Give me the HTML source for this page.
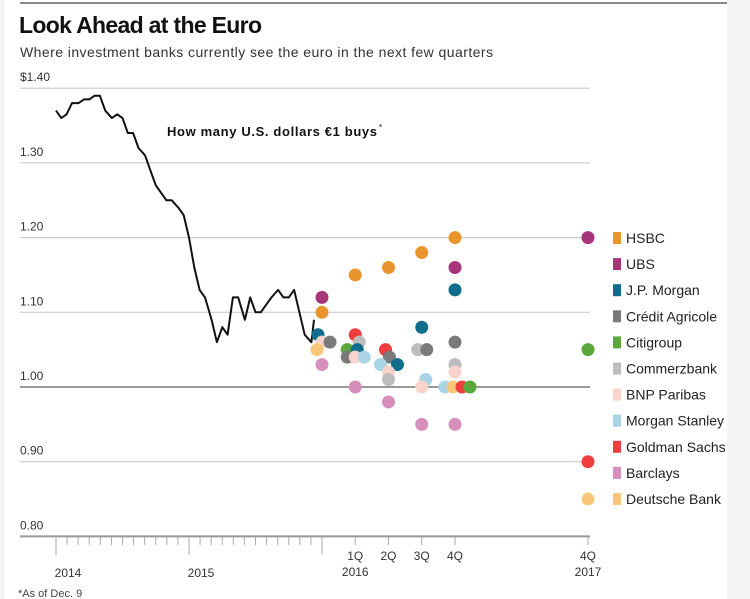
<!DOCTYPE html>
<html><head><meta charset="utf-8">
<style>
body{margin:0;background:#fff;}
#wrap{position:relative;width:750px;height:599px;overflow:hidden;background:#fff;font-family:"Liberation Sans",sans-serif;}
svg text{font-family:"Liberation Sans",sans-serif;}
</style></head>
<body>
<div id="wrap">
<svg id="chart" width="750" height="599">
  <rect x="727" y="0" width="23" height="599" fill="#f4f4f4"/>
  <rect x="0" y="0" width="5" height="599" fill="#f4f4f4"/>
  <line x1="20" y1="3" x2="727" y2="3" stroke="#888" stroke-width="2"/>
  <text x="19" y="33" font-size="23" font-weight="bold" fill="#111" textLength="243">Look Ahead at the Euro</text>
  <text x="20" y="57" font-size="14" fill="#333" textLength="473">Where investment banks currently see the euro in the next few quarters</text>
  <text x="167" y="136" font-size="13" font-weight="bold" fill="#111" textLength="210">How many U.S. dollars €1 buys</text>
  <text x="379" y="130" font-size="8" fill="#111">*</text>
  <text x="18" y="597" font-size="11" fill="#444">*As of Dec. 9</text>
  <g id="grid"></g><g id="axis"></g><g id="line"></g><g id="dots"></g><g id="legend"></g>
</svg>
</div>
<script>
const yTicks=[1.40,1.30,1.20,1.10,1.00,0.90,0.80];
const yTickLabels=["$1.40","1.30","1.20","1.10","1.00","0.90","0.80"];
const histDates=[2014.00,2014.04,2014.08,2014.12,2014.17,2014.21,2014.25,2014.29,2014.33,2014.37,2014.42,2014.46,2014.50,2014.54,2014.58,2014.62,2014.67,2014.71,2014.75,2014.79,2014.83,2014.87,2014.92,2014.96,2015.00,2015.04,2015.08,2015.12,2015.17,2015.21,2015.25,2015.29,2015.33,2015.37,2015.42,2015.46,2015.50,2015.54,2015.58,2015.62,2015.67,2015.71,2015.75,2015.79,2015.83,2015.87,2015.92,2015.94];
const histValues=[1.37,1.36,1.365,1.38,1.38,1.385,1.385,1.39,1.39,1.37,1.36,1.365,1.36,1.34,1.34,1.32,1.31,1.29,1.27,1.26,1.25,1.25,1.24,1.23,1.20,1.16,1.13,1.12,1.09,1.06,1.08,1.07,1.12,1.12,1.09,1.12,1.10,1.10,1.11,1.12,1.13,1.12,1.12,1.13,1.10,1.07,1.06,1.09];
const periodLabels=["Now","1Q 2016","2Q 2016","3Q 2016","4Q 2016","4Q 2017"];
const periodTimes=[2016.0,2016.25,2016.5,2016.75,2017.0,2018.0];
const banks=["HSBC","UBS","J.P. Morgan","Crédit Agricole","Citigroup","Commerzbank","BNP Paribas","Morgan Stanley","Goldman Sachs","Barclays","Deutsche Bank"];
const bankColors=["#e8952e","#a8357a","#0e6e8c","#7a7a7a","#5aa83c","#bdbdbd","#f9d4cc","#a8d4e6","#ee3e3e","#d58fba","#f8c77a"];
// forecasts: [bankIndex, periodIndex, value]
const fcBank=[1,0,2,6,3,10,9, 0,8,5,4,3,2,6,7,9, 0,8,3,7,2,6,5,9, 0,2,5,3,7,6,9, 0,1,2,3,5,6,7,10,8,4,9, 1,4,8,10];
const fcPeriod=[0,0,0,0,0,0,0, 1,1,1,1,1,1,1,1,1, 2,2,2,2,2,2,2,2, 3,3,3,3,3,3,3, 4,4,4,4,4,4,4,4,4,4,4, 5,5,5,5];
const fcValue=[1.12,1.10,1.07,1.06,1.06,1.05,1.03, 1.15,1.07,1.06,1.05,1.04,1.05,1.04,1.04,1.00, 1.16,1.05,1.04,1.03,1.03,1.02,1.01,0.98, 1.18,1.08,1.05,1.05,1.01,1.00,0.95, 1.20,1.16,1.13,1.06,1.03,1.02,1.00,1.00,1.00,1.00,0.95, 1.20,1.05,0.90,0.85];
// small horizontal jitter (px) to avoid overlap
const fcJitter=[0,0,-4,0,8,-5,0, 0,0,4,-8,-8,2,0,9, 0, 0,-3,1,-8,9,0,0,0, 0,0,-4,5,4,0,0, 0,0,0,0,0,0,-10,-2,7,15,0, 0,0,0,0];

const ns="http://www.w3.org/2000/svg";
const y=v=>387-(v-1.0)*747;
const x=t=>56+(t-2014)*133;
function mk(tag,attrs,parent){const e=document.createElementNS(ns,tag);for(const k in attrs)e.setAttribute(k,attrs[k]);parent.appendChild(e);return e;}

const grid=document.getElementById('grid');
yTicks.forEach((v,i)=>{
  const l=mk('line',{x1:20,x2:590,y1:y(v),y2:y(v),stroke:v===1.0?'#777':(v===0.8?'#999':'#ccc'),'stroke-width':v===1.0?1.5:(v===0.8?2:1.2)},grid);
  
  
  const t=mk('text',{x:20,y:y(v)-7,'font-size':12,fill:'#333'},grid);
  t.textContent=yTickLabels[i];
  
  
});

const axis=document.getElementById('axis');
for(let m=0;m<=24;m++){
  const t=2014+m/12, major=(m%12===0);
  const l=mk('line',{x1:x(t),x2:x(t),y1:537,y2:major?555:545,stroke:'#aaa','stroke-width':1},axis);
  
  
}
periodTimes.slice(1).forEach((t,i)=>{
  const l=mk('line',{x1:x(t),x2:x(t),y1:537,y2:545,stroke:'#aaa'},axis);
  
  
});
[["2014",2014,573],["2015",2015,573]].forEach(d=>{
  const t=mk('text',{x:x(d[1])+12,y:d[2]+4,'font-size':12,fill:'#333','text-anchor':'middle'},axis);
  t.textContent=d[0];
  
  
});
const qLab=["1Q","2Q","3Q","4Q","4Q"];
periodTimes.slice(1).forEach((t,i)=>{
  const e=mk('text',{x:x(t),y:560,'font-size':12,fill:'#333','text-anchor':'middle'},axis);
  e.textContent=qLab[i];
  
  
});
[["2016",2016.25],["2017",2018.0]].forEach(d=>{
  const e=mk('text',{x:x(d[1]),y:576,'font-size':12,fill:'#333','text-anchor':'middle'},axis);
  e.textContent=d[0];
  
  
});

const pts=histDates.map((d,i)=>x(d).toFixed(1)+','+y(histValues[i]).toFixed(1)).join(' ');
const pl=mk('polyline',{points:pts,fill:'none',stroke:'#111','stroke-width':2,'stroke-linejoin':'round'},document.getElementById('line'));



const dots=document.getElementById('dots');
fcValue.forEach((v,i)=>{
  const c=mk('circle',{cx:x(periodTimes[fcPeriod[i]])+fcJitter[i],cy:y(v),r:6.5,fill:bankColors[fcBank[i]]},dots);
  
  
});

const leg=document.getElementById('legend');
banks.forEach((b,i)=>{
  const yy=238+i*26.1;
  const r=mk('rect',{x:613,y:yy-6,width:8,height:12,fill:bankColors[i]},leg);
  
  
  const t=mk('text',{x:626,y:yy+5,'font-size':14,fill:'#222'},leg);
  t.textContent=b;
  
  
});
</script>
</body></html>
